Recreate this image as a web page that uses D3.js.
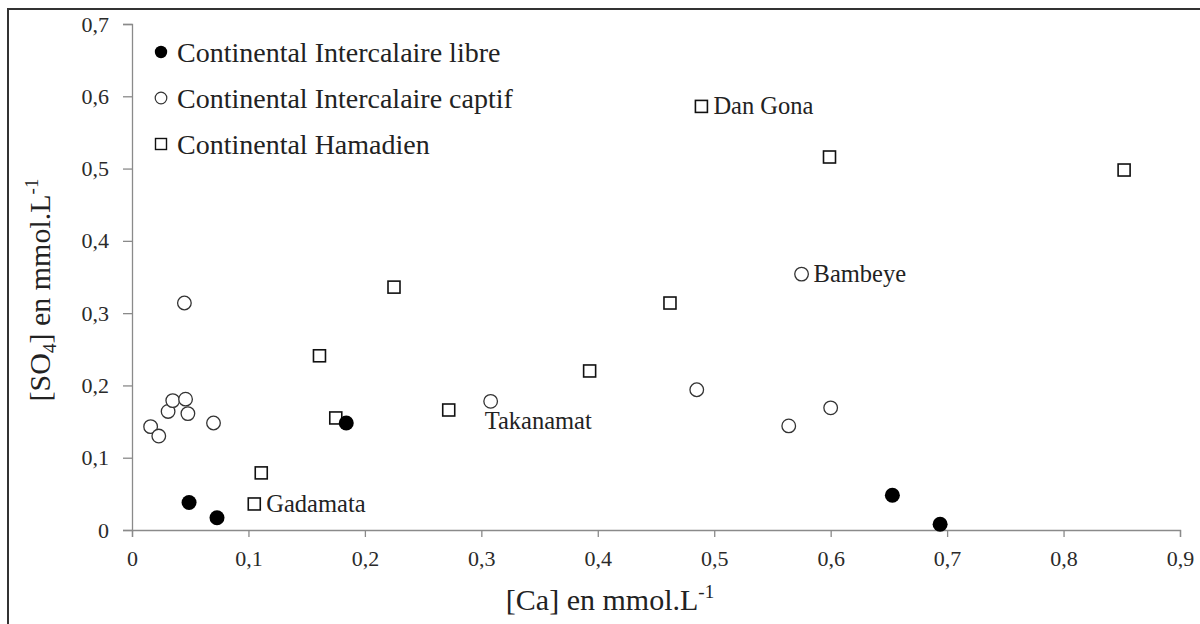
<!DOCTYPE html>
<html>
<head>
<meta charset="utf-8">
<script src="https://cdn.jsdelivr.net/npm/d3@7"></script>
<style>
  html, body { margin: 0; padding: 0; background: #fff; }
  svg { display: block; }
  text { font-family: "Liberation Serif", "Times New Roman", serif; }
</style>
</head>
<body>
<script>
// ---- data ----
const seriesNames = ["Continental Intercalaire libre", "Continental Intercalaire captif", "Continental Hamadien"];
const libreCa  = [0.049, 0.073, 0.184, 0.653, 0.694];
const libreSO4 = [0.038, 0.017, 0.148, 0.048, 0.008];
const captifCa  = [0.045, 0.016, 0.023, 0.031, 0.035, 0.046, 0.048, 0.070, 0.308, 0.485, 0.564, 0.600, 0.575];
const captifSO4 = [0.314, 0.143, 0.130, 0.164, 0.179, 0.181, 0.161, 0.148, 0.178, 0.194, 0.144, 0.169, 0.354];
const hamCa  = [0.105, 0.111, 0.161, 0.175, 0.225, 0.272, 0.393, 0.462, 0.489, 0.599, 0.852];
const hamSO4 = [0.036, 0.079, 0.241, 0.155, 0.336, 0.166, 0.220, 0.314, 0.586, 0.516, 0.498];
const xTicks = [0, 0.1, 0.2, 0.3, 0.4, 0.5, 0.6, 0.7, 0.8, 0.9];
const yTicks = [0, 0.1, 0.2, 0.3, 0.4, 0.5, 0.6, 0.7];
// point labels: [series, index, text, placement]
const pointLabels = [
  ["ham", 8, "Dan Gona", "right"],
  ["captif", 12, "Bambeye", "right"],
  ["ham", 0, "Gadamata", "right"],
  ["captif", 8, "Takanamat", "below"]
];

const W = 1200, H = 624;
const svg = d3.select("body").append("svg").attr("width", W).attr("height", H);

// outer frame
svg.append("rect").attr("x", 8).attr("y", 9).attr("width", W + 20).attr("height", H + 20)
  .attr("fill", "#fff").attr("stroke", "#333").attr("stroke-width", 2);

const x = d3.scaleLinear().domain([0, 0.9]).range([132, 1180]);
const y = d3.scaleLinear().domain([0, 0.7]).range([530, 24]);
const fmt = d => d === 0 ? "0" : d3.format(".1f")(d).replace(".", ",");

// axes
const xAxis = svg.append("g").attr("transform", `translate(0,${y(0)})`)
  .call(d3.axisBottom(x).tickValues(xTicks).tickFormat(fmt).tickSizeOuter(0).tickSize(7).tickPadding(13));
const yAxis = svg.append("g").attr("transform", `translate(${x(0)},0)`)
  .call(d3.axisLeft(y).tickValues(yTicks).tickFormat(fmt).tickSizeOuter(0).tickSize(9).tickPadding(14));
[xAxis, yAxis].forEach(g => {
  g.attr("font-family", null);
  g.select(".domain").attr("stroke", "#8a8a8a").attr("stroke-width", 1.3);
  g.selectAll(".tick line").attr("stroke", "#8a8a8a").attr("stroke-width", 1.3);
  g.selectAll(".tick text").attr("fill", "#2a2a2a").style("font-size", "22px")
    .style("font-family", "'Liberation Serif', serif");
});

// axis titles
const xt = svg.append("text").attr("x", 610).attr("y", 610).attr("text-anchor", "middle")
  .style("font-size", "30px").attr("fill", "#222");
xt.append("tspan").text("[Ca] en mmol.L");
xt.append("tspan").text("-1").attr("dy", -12).style("font-size", "19px");

const yt = svg.append("text").attr("transform", "translate(50,290) rotate(-90)")
  .attr("text-anchor", "middle").style("font-size", "30px").attr("fill", "#222");
yt.append("tspan").text("[SO");
yt.append("tspan").text("4").attr("dy", 6).style("font-size", "19px");
yt.append("tspan").text("] en mmol.L").attr("dy", -6);
yt.append("tspan").text("-1").attr("dy", -12).style("font-size", "19px");

// marks
const libre = libreCa.map((c, i) => ({ ca: c, so4: libreSO4[i] }));
const captif = captifCa.map((c, i) => ({ ca: c, so4: captifSO4[i] }));
const ham = hamCa.map((c, i) => ({ ca: c, so4: hamSO4[i] }));

const sq = 12;
svg.append("g").selectAll("rect").data(ham).join("rect")
  .attr("x", d => x(d.ca) - sq / 2).attr("y", d => y(d.so4) - sq / 2)
  .attr("width", sq).attr("height", sq)
  .attr("fill", "#fff").attr("stroke", "#111").attr("stroke-width", 1.6);

svg.append("g").selectAll("circle").data(captif).join("circle")
  .attr("cx", d => x(d.ca)).attr("cy", d => y(d.so4)).attr("r", 6.8)
  .attr("fill", "#fff").attr("stroke", "#333").attr("stroke-width", 1.3);

svg.append("g").selectAll("circle").data(libre).join("circle")
  .attr("cx", d => x(d.ca)).attr("cy", d => y(d.so4)).attr("r", 7.5)
  .attr("fill", "#000");

// point labels
const lookup = { ham: ham, captif: captif, libre: libre };
pointLabels.forEach(([s, i, t, pl]) => {
  const d = lookup[s][i];
  if (pl === "right") {
    svg.append("text").attr("x", x(d.ca) + 12).attr("y", y(d.so4) + 8)
      .style("font-size", "24.5px").attr("fill", "#222").text(t);
  } else {
    svg.append("text").attr("x", x(d.ca) - 6).attr("y", y(d.so4) + 28)
      .style("font-size", "24.5px").attr("fill", "#222").text(t);
  }
});

// legend
const legY = [52, 98, 144];
const lg = svg.append("g");
seriesNames.forEach((n, i) => {
  const cy = legY[i], cx = 161;
  if (i === 0) lg.append("circle").attr("cx", cx).attr("cy", cy).attr("r", 6.2).attr("fill", "#000");
  if (i === 1) lg.append("circle").attr("cx", cx).attr("cy", cy).attr("r", 5.8).attr("fill", "#fff").attr("stroke", "#333").attr("stroke-width", 1.2);
  if (i === 2) lg.append("rect").attr("x", cx - 5.5).attr("y", cy - 5.5).attr("width", 11).attr("height", 11).attr("fill", "#fff").attr("stroke", "#111").attr("stroke-width", 1.4);
  lg.append("text").attr("x", 177).attr("y", cy + 9.5).style("font-size", "28px").attr("fill", "#222").text(n);
});
</script>
</body>
</html>
